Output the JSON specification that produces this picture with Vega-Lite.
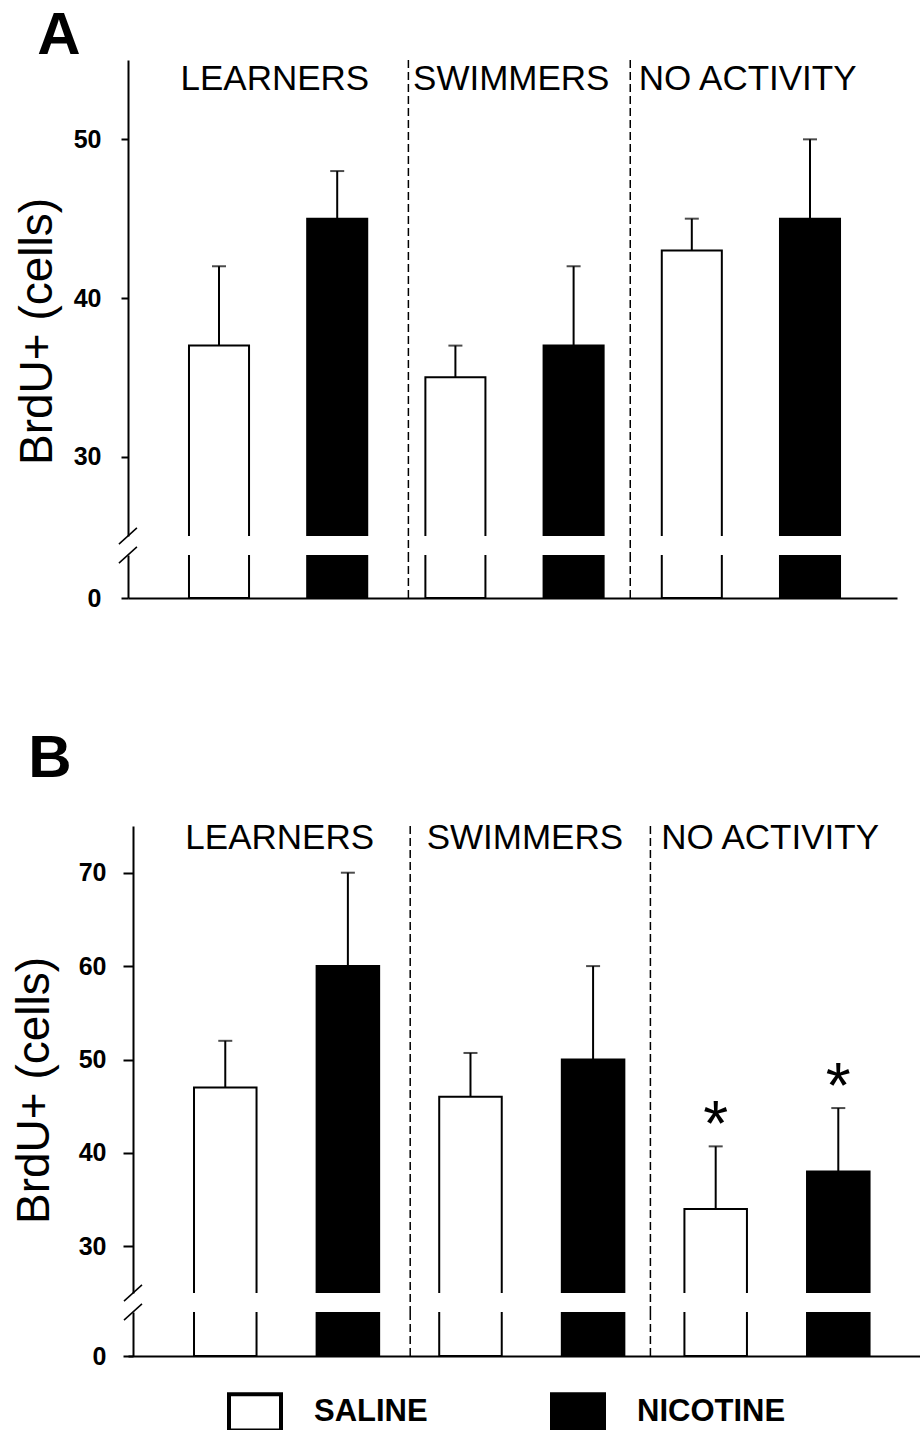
{
  "$schema": "https://vega.github.io/schema/vega-lite/v6.json",
  "padding": {"left": 11, "top": 6, "right": 0, "bottom": 0},
  "background": "white",
  "config": {
    "view": {"stroke": null},
    "font": "Liberation Sans",
    "axis": {"domainColor": "black", "tickColor": "black", "labelColor": "black", "titleColor": "black", "grid": false, "domainWidth": 2, "tickWidth": 2},
    "title": {"color": "black"},
    "legend": {"orient": "none", "legendX": 99, "legendY": 1324, "direction": "horizontal", "symbolType": "M-1,-0.7H1V0.7H-1Z", "symbolSize": 2704, "symbolStrokeColor": "black", "symbolStrokeWidth": 4, "labelFont": "Liberation Sans", "labelFontSize": 31, "labelFontWeight": "bold", "labelColor": "black", "labelOffset": 31, "columnPadding": 116, "padding": 0, "labelLimit": 400}
  },
  "datasets": {
    "bars": [
      {"panel": "A", "group": "LEARNERS", "treatment": "SALINE", "bar": "L-sal", "mean": 37, "upper": 42, "sig": ""},
      {"panel": "A", "group": "LEARNERS", "treatment": "NICOTINE", "bar": "L-nic", "mean": 45, "upper": 48, "sig": ""},
      {"panel": "A", "group": "SWIMMERS", "treatment": "SALINE", "bar": "S-sal", "mean": 35, "upper": 37, "sig": ""},
      {"panel": "A", "group": "SWIMMERS", "treatment": "NICOTINE", "bar": "S-nic", "mean": 37, "upper": 42, "sig": ""},
      {"panel": "A", "group": "NO ACTIVITY", "treatment": "SALINE", "bar": "N-sal", "mean": 43, "upper": 45, "sig": ""},
      {"panel": "A", "group": "NO ACTIVITY", "treatment": "NICOTINE", "bar": "N-nic", "mean": 45, "upper": 50, "sig": ""},
      {"panel": "B", "group": "LEARNERS", "treatment": "SALINE", "bar": "L-sal", "mean": 47, "upper": 52, "sig": ""},
      {"panel": "B", "group": "LEARNERS", "treatment": "NICOTINE", "bar": "L-nic", "mean": 60, "upper": 70, "sig": ""},
      {"panel": "B", "group": "SWIMMERS", "treatment": "SALINE", "bar": "S-sal", "mean": 46, "upper": 50.7, "sig": ""},
      {"panel": "B", "group": "SWIMMERS", "treatment": "NICOTINE", "bar": "S-nic", "mean": 50, "upper": 60, "sig": ""},
      {"panel": "B", "group": "NO ACTIVITY", "treatment": "SALINE", "bar": "N-sal", "mean": 34, "upper": 40.7, "sig": "*"},
      {"panel": "B", "group": "NO ACTIVITY", "treatment": "NICOTINE", "bar": "N-nic", "mean": 38, "upper": 44.8, "sig": "*"}
    ]
  },
  "resolve": {"scale": {"x": "independent", "y": "independent", "fill": "shared"}},
  "spacing": 118,
  "vconcat": [
    {
      "title": {"text": "A", "anchor": "start", "fontSize": 60, "fontWeight": "bold", "font": "Liberation Sans", "offset": -8, "dx": 23, "color": "black"},
      "bounds": "flush",
      "spacing": 19,
      "resolve": {"scale": {"x": "independent", "y": "independent", "fill": "shared"}},
      "vconcat": [
        {
          "width": 769, "height": 476,
          "data": {"name": "bars"},
          "transform": [{"filter": "datum.panel === 'A'"}],
          "layer": [
            {"mark": {"type": "bar", "clip": true, "stroke": "black", "strokeWidth": 2},
             "encoding": {
               "x": {"field": "bar", "type": "nominal", "scale": {"domain": ["L-sal", "L-nic", "S-sal", "S-nic", "N-sal", "N-nic"], "paddingInner": 0.492, "paddingOuter": 0.499, "align": 0.517}, "axis": null},
               "y": {"field": "mean", "type": "quantitative", "scale": {"domain": [25, 55], "nice": false, "zero": false}, "axis": {"values": [30, 40, 50], "title": "BrdU+ (cells)", "titleFontSize": 46, "titleFontWeight": "normal", "titleFont": "Liberation Sans", "titleY": 271, "titlePadding": 12, "labelFontSize": 25, "labelFontWeight": "bold", "labelFont": "Liberation Sans", "labelPadding": 20, "tickSize": 7}},
               "y2": {"datum": 0},
               "fill": {"field": "treatment", "type": "nominal", "title": null, "scale": {"domain": ["SALINE", "NICOTINE"], "range": ["white", "black"]}}
             }},
            {"mark": {"type": "rule", "color": "black", "strokeWidth": 2},
             "encoding": {"x": {"field": "bar", "type": "nominal", "axis": null}, "y": {"field": "mean", "type": "quantitative"}, "y2": {"field": "upper"}}},
            {"mark": {"type": "tick", "color": "black", "thickness": 2, "size": 14, "orient": "horizontal"},
             "encoding": {"x": {"field": "bar", "type": "nominal", "axis": null}, "y": {"field": "upper", "type": "quantitative"}}},
            {"transform": [{"filter": "datum.bar === 'S-sal'"}],
             "mark": {"type": "rule", "color": "black", "strokeWidth": 1.5, "strokeDash": [8, 4], "clip": false},
             "encoding": {"x": {"field": "bar", "type": "nominal", "axis": null, "bandPosition": -0.283}, "y": {"datum": 55}, "y2": {"datum": 23.8}}},
            {"transform": [{"filter": "datum.bar === 'N-sal'"}],
             "mark": {"type": "rule", "color": "black", "strokeWidth": 1.5, "strokeDash": [8, 4], "clip": false},
             "encoding": {"x": {"field": "bar", "type": "nominal", "axis": null, "bandPosition": -0.525}, "y": {"datum": 55}, "y2": {"datum": 23.8}}},
            {"transform": [{"filter": "datum.treatment === 'SALINE'"}],
             "mark": {"type": "text", "color": "black", "font": "Liberation Sans", "fontSize": 35, "align": "center", "baseline": "middle"},
             "encoding": {"x": {"field": "bar", "type": "nominal", "axis": null, "bandPosition": 1.43}, "y": {"datum": 53.8}, "text": {"field": "group"}}},
            {"transform": [{"filter": "datum.bar === 'L-sal'"}],
             "mark": {"type": "point", "shape": "M-1,0.9L1,-0.9", "size": 324, "color": "black", "filled": false, "strokeWidth": 1.5, "opacity": 1, "clip": false},
             "encoding": {"x": {"field": "bar", "type": "nominal", "axis": null, "bandPosition": -1.017}, "y": {"datum": 25}}}
          ]
        },
        {
          "width": 769, "height": 43,
          "data": {"name": "bars"},
          "transform": [{"filter": "datum.panel === 'A'"}],
          "layer": [
            {"mark": {"type": "bar", "clip": true, "stroke": "black", "strokeWidth": 2},
             "encoding": {
               "x": {"field": "bar", "type": "nominal", "scale": {"domain": ["L-sal", "L-nic", "S-sal", "S-nic", "N-sal", "N-nic"], "paddingInner": 0.492, "paddingOuter": 0.499, "align": 0.517}, "axis": {"title": null, "labels": false, "ticks": false, "domain": true}},
               "y": {"field": "mean", "type": "quantitative", "scale": {"domain": [0, 3], "nice": false, "zero": false}, "axis": {"values": [0], "title": null, "labelFontSize": 25, "labelFontWeight": "bold", "labelFont": "Liberation Sans", "labelPadding": 20, "tickSize": 7}},
               "y2": {"datum": 0},
               "fill": {"field": "treatment", "type": "nominal", "title": null, "scale": {"domain": ["SALINE", "NICOTINE"], "range": ["white", "black"]}}
             }},
            {"transform": [{"filter": "datum.bar === 'S-sal'"}],
             "mark": {"type": "rule", "color": "black", "strokeWidth": 1.5, "strokeDash": [8, 4], "clip": false},
             "encoding": {"x": {"field": "bar", "type": "nominal", "axis": {"title": null, "labels": false, "ticks": false, "domain": true}, "bandPosition": -0.283}, "y": {"datum": 0}, "y2": {"datum": 3}}},
            {"transform": [{"filter": "datum.bar === 'N-sal'"}],
             "mark": {"type": "rule", "color": "black", "strokeWidth": 1.5, "strokeDash": [8, 4], "clip": false},
             "encoding": {"x": {"field": "bar", "type": "nominal", "axis": {"title": null, "labels": false, "ticks": false, "domain": true}, "bandPosition": -0.525}, "y": {"datum": 0}, "y2": {"datum": 3}}},
            {"transform": [{"filter": "datum.bar === 'L-sal'"}],
             "mark": {"type": "point", "shape": "M-1,0.9L1,-0.9", "size": 324, "color": "black", "filled": false, "strokeWidth": 1.5, "opacity": 1, "clip": false},
             "encoding": {"x": {"field": "bar", "type": "nominal", "axis": {"title": null, "labels": false, "ticks": false, "domain": true}, "bandPosition": -1.017}, "y": {"datum": 3}}}
          ]
        }
      ]
    },
    {
      "title": {"text": "B", "anchor": "start", "fontSize": 60, "fontWeight": "bold", "font": "Liberation Sans", "offset": 31, "dx": 17, "color": "black"},
      "bounds": "flush",
      "spacing": 19,
      "resolve": {"scale": {"x": "independent", "y": "independent", "fill": "shared"}},
      "vconcat": [
        {
          "width": 793, "height": 467,
          "data": {"name": "bars"},
          "transform": [{"filter": "datum.panel === 'B'"}],
          "layer": [
            {"mark": {"type": "bar", "clip": true, "stroke": "black", "strokeWidth": 2},
             "encoding": {
               "x": {"field": "bar", "type": "nominal", "scale": {"domain": ["L-sal", "L-nic", "S-sal", "S-nic", "N-sal", "N-nic"], "paddingInner": 0.49, "paddingOuter": 0.479, "align": 0.562}, "axis": null},
               "y": {"field": "mean", "type": "quantitative", "scale": {"domain": [25, 75], "nice": false, "zero": false}, "axis": {"values": [30, 40, 50, 60, 70], "offset": -5, "title": "BrdU+ (cells)", "titleFontSize": 46, "titleFontWeight": "normal", "titleFont": "Liberation Sans", "titleY": 264, "titlePadding": 20, "labelFontSize": 25, "labelFontWeight": "bold", "labelFont": "Liberation Sans", "labelPadding": 17, "tickSize": 10}},
               "y2": {"datum": 0},
               "fill": {"field": "treatment", "type": "nominal", "title": null, "scale": {"domain": ["SALINE", "NICOTINE"], "range": ["white", "black"]}}
             }},
            {"mark": {"type": "rule", "color": "black", "strokeWidth": 2},
             "encoding": {"x": {"field": "bar", "type": "nominal", "axis": null}, "y": {"field": "mean", "type": "quantitative"}, "y2": {"field": "upper"}}},
            {"mark": {"type": "tick", "color": "black", "thickness": 2, "size": 14, "orient": "horizontal"},
             "encoding": {"x": {"field": "bar", "type": "nominal", "axis": null}, "y": {"field": "upper", "type": "quantitative"}}},
            {"transform": [{"filter": "datum.sig === '*'"}],
             "mark": {"type": "text", "color": "black", "font": "Liberation Sans", "fontSize": 64, "align": "center", "baseline": "alphabetic"},
             "encoding": {"x": {"field": "bar", "type": "nominal", "axis": null}, "y": {"field": "upper", "type": "quantitative"}, "text": {"field": "sig"}}},
            {"transform": [{"filter": "datum.bar === 'S-sal'"}],
             "mark": {"type": "rule", "color": "black", "strokeWidth": 1.5, "strokeDash": [8, 4], "clip": false},
             "encoding": {"x": {"field": "bar", "type": "nominal", "axis": null, "bandPosition": -0.464}, "y": {"datum": 75}, "y2": {"datum": 22.97}}},
            {"transform": [{"filter": "datum.bar === 'N-sal'"}],
             "mark": {"type": "rule", "color": "black", "strokeWidth": 1.5, "strokeDash": [8, 4], "clip": false},
             "encoding": {"x": {"field": "bar", "type": "nominal", "axis": null, "bandPosition": -0.544}, "y": {"datum": 75}, "y2": {"datum": 22.97}}},
            {"transform": [{"filter": "datum.treatment === 'SALINE'"}],
             "mark": {"type": "text", "color": "black", "font": "Liberation Sans", "fontSize": 35, "align": "center", "baseline": "middle"},
             "encoding": {"x": {"field": "bar", "type": "nominal", "axis": null, "bandPosition": 1.37}, "y": {"datum": 73.7}, "text": {"field": "group"}}},
            {"transform": [{"filter": "datum.bar === 'L-sal'"}],
             "mark": {"type": "point", "shape": "M-1,0.9L1,-0.9", "size": 324, "color": "black", "filled": false, "strokeWidth": 1.5, "opacity": 1, "clip": false},
             "encoding": {"x": {"field": "bar", "type": "nominal", "axis": null, "bandPosition": -0.976}, "y": {"datum": 25}}}
          ]
        },
        {
          "width": 793, "height": 44,
          "data": {"name": "bars"},
          "transform": [{"filter": "datum.panel === 'B'"}],
          "layer": [
            {"mark": {"type": "bar", "clip": true, "stroke": "black", "strokeWidth": 2},
             "encoding": {
               "x": {"field": "bar", "type": "nominal", "scale": {"domain": ["L-sal", "L-nic", "S-sal", "S-nic", "N-sal", "N-nic"], "paddingInner": 0.49, "paddingOuter": 0.479, "align": 0.562}, "axis": {"title": null, "labels": false, "ticks": false, "domain": true}},
               "y": {"field": "mean", "type": "quantitative", "scale": {"domain": [0, 3], "nice": false, "zero": false}, "axis": {"values": [0], "offset": -5, "title": null, "labelFontSize": 25, "labelFontWeight": "bold", "labelFont": "Liberation Sans", "labelPadding": 17, "tickSize": 10}},
               "y2": {"datum": 0},
               "fill": {"field": "treatment", "type": "nominal", "title": null, "scale": {"domain": ["SALINE", "NICOTINE"], "range": ["white", "black"]}}
             }},
            {"transform": [{"filter": "datum.bar === 'S-sal'"}],
             "mark": {"type": "rule", "color": "black", "strokeWidth": 1.5, "strokeDash": [8, 4], "clip": false},
             "encoding": {"x": {"field": "bar", "type": "nominal", "axis": {"title": null, "labels": false, "ticks": false, "domain": true}, "bandPosition": -0.464}, "y": {"datum": 0}, "y2": {"datum": 3}}},
            {"transform": [{"filter": "datum.bar === 'N-sal'"}],
             "mark": {"type": "rule", "color": "black", "strokeWidth": 1.5, "strokeDash": [8, 4], "clip": false},
             "encoding": {"x": {"field": "bar", "type": "nominal", "axis": {"title": null, "labels": false, "ticks": false, "domain": true}, "bandPosition": -0.544}, "y": {"datum": 0}, "y2": {"datum": 3}}},
            {"transform": [{"filter": "datum.bar === 'L-sal'"}],
             "mark": {"type": "point", "shape": "M-1,0.9L1,-0.9", "size": 324, "color": "black", "filled": false, "strokeWidth": 1.5, "opacity": 1, "clip": false},
             "encoding": {"x": {"field": "bar", "type": "nominal", "axis": {"title": null, "labels": false, "ticks": false, "domain": true}, "bandPosition": -0.976}, "y": {"datum": 3}}}
          ]
        }
      ]
    }
  ]
}
